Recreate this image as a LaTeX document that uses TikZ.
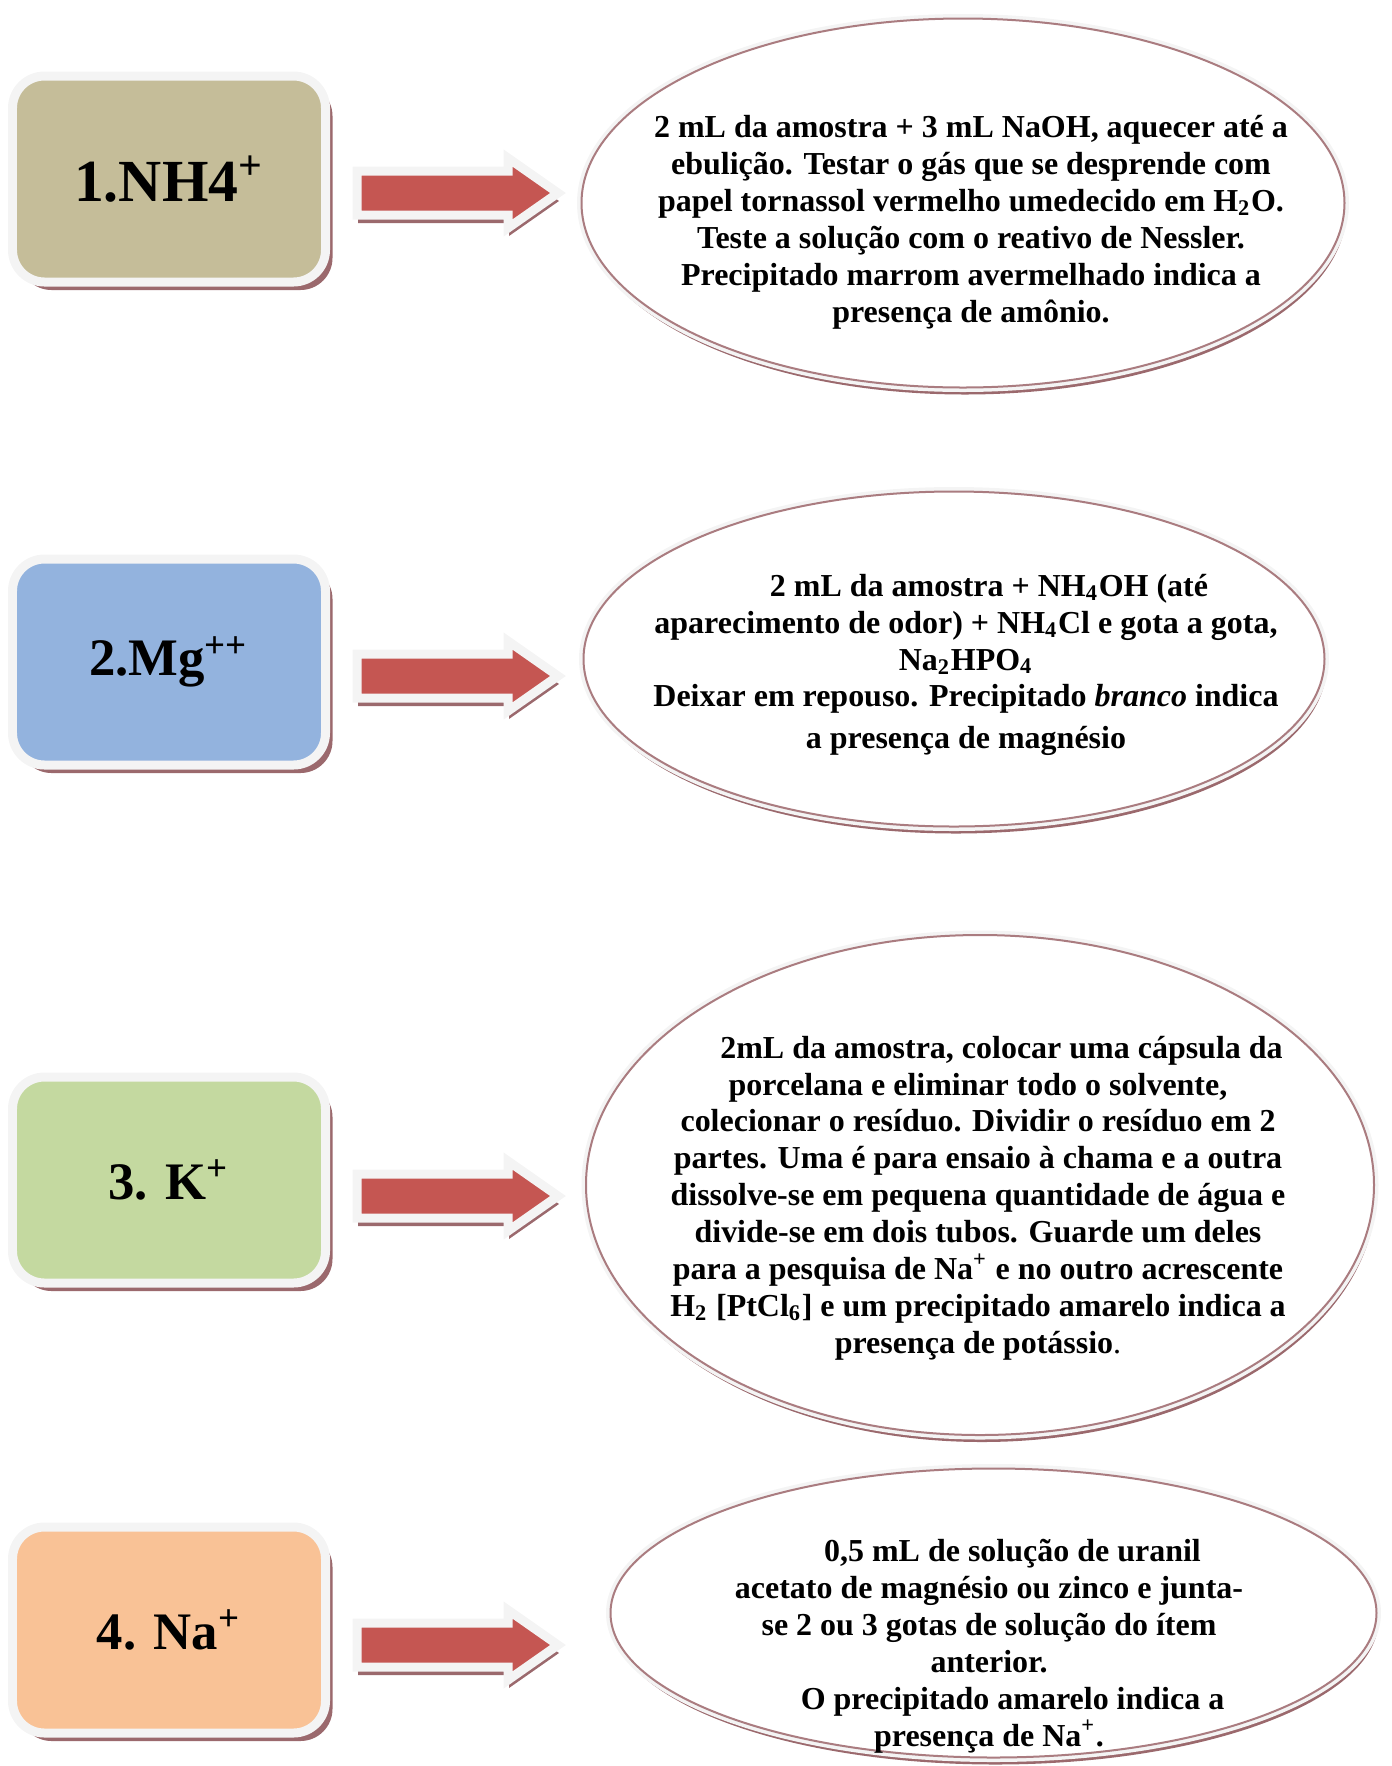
\documentclass[tikz,border=0pt]{standalone}
\usepackage{fontspec}
\setmainfont{Liberation Serif}
\definecolor{boxtan}{RGB}{197, 189, 153}
\definecolor{boxblue}{RGB}{147, 179, 222}
\definecolor{boxgreen}{RGB}{196, 217, 160}
\definecolor{boxpeach}{RGB}{249, 194, 150}
\definecolor{arrowred}{RGB}{197, 86, 82}
\definecolor{rimgray}{RGB}{244, 244, 244}
\definecolor{shadowbrown}{RGB}{155, 105, 109}
\definecolor{ringbrown}{RGB}{170, 124, 128}
\usetikzlibrary{shapes, shadows, positioning}

\begin{document}
\begin{tikzpicture}[
  brownshadow/.style 2 args={drop shadow={shadow xshift=#1, shadow yshift=#2, fill=shadowbrown, opacity=1}},
  ionbox/.style={rectangle, rounded corners=0.32cm, draw=rimgray, line width=0.09cm, minimum width=3.13cm, minimum height=2.06cm, inner sep=0pt, brownshadow={0.07cm}{-0.08cm}, font=\fontsize{15}{18}\selectfont\bfseries},
  blockarrow/.style={single arrow, fill=arrowred, draw=rimgray, line width=0.09cm, minimum height=2.01cm, minimum width=0.61cm, inner sep=0.175cm, single arrow head extend=0.13cm, single arrow tip angle=70, brownshadow={0.01cm}{-0.08cm}, anchor=tail},
  testring/.style={ellipse, brownshadow={0.02cm}{-0.07cm}, preaction={draw=rimgray, line width=0.09cm}, fill=white, draw=ringbrown, line width=0.02cm, inner sep=0pt},
  testtext/.style={align=center, inner sep=0pt, font=\fontsize{9.1}{10.5}\selectfont\bfseries}
]
  \useasboundingbox (0, 0) rectangle (13.92, -17.66);

  % Ion boxes
  \node[ionbox, fill=boxtan, font=\fontsize{17}{20}\selectfont\bfseries] (nh4) at (1.69, -1.79) {1.NH4\textsuperscript{+}};
  \node[ionbox, fill=boxblue] (mg) at (1.69, -6.62) {2.Mg\textsuperscript{++}};
  \node[ionbox, fill=boxgreen] (k) at (1.69, -11.80) {3. K\textsuperscript{+}};
  \node[ionbox, fill=boxpeach] (na) at (1.69, -16.30) {4. Na\textsuperscript{+}};

  % Arrows
  \node[blockarrow] (arrnh4) at (3.525, -1.93) {};
  \node[blockarrow] (arrmg) at (3.525, -6.76) {};
  \node[blockarrow] (arrk) at (3.525, -11.96) {};
  \node[blockarrow] (arrna) at (3.525, -16.45) {};

  % Test ellipses
  \node[testring, minimum width=7.63cm, minimum height=3.69cm] (ringnh4) at (9.63, -2.03) {};
  \node[testring, minimum width=7.41cm, minimum height=3.35cm] (ringmg) at (9.54, -6.59) {};
  \node[testring, minimum width=7.88cm, minimum height=5.00cm] (ringk) at (9.80, -11.85) {};
  \node[testring, minimum width=7.66cm, minimum height=2.89cm] (ringna) at (9.935, -16.13) {};

  % Test texts
  \node[testtext] (textnh4) at (9.71, -2.225) {
    2 mL da amostra + 3 mL NaOH, aquecer até a\\
    ebulição. Testar o gás que se desprende com\\
    papel tornassol vermelho umedecido em H\textsubscript{2}O.\\
    Teste a solução com o reativo de Nessler.\\
    Precipitado marrom avermelhado indica a\\
    presença de amônio.
  };
  \node[testtext] (textmg) at (9.66, -6.65) {
    \hspace*{0.46cm}2 mL da amostra + NH\textsubscript{4}OH (até\\
    aparecimento de odor) + NH\textsubscript{4}Cl e gota a gota,\\
    Na\textsubscript{2}HPO\textsubscript{4}\\
    Deixar em repouso. Precipitado \textit{branco} indica\\[0.05cm]
    a presença de magnésio
  };
  \node[testtext] (textk) at (9.78, -11.98) {
    \hspace*{0.47cm}2mL da amostra, colocar uma cápsula da\\
    porcelana e eliminar todo o solvente,\\
    colecionar o resíduo. Dividir o resíduo em 2\\
    partes. Uma é para ensaio à chama e a outra\\
    dissolve-se em pequena quantidade de água e\\
    divide-se em dois tubos. Guarde um deles\\
    para a pesquisa de Na\textsuperscript{+} e no outro acrescente\\
    H\textsubscript{2} [PtCl\textsubscript{6}] e um precipitado amarelo indica a\\
    presença de potássio{\mdseries .}
  };
  \node[testtext] (textna) at (9.89, -16.46) {
    \hspace*{0.47cm}0,5 mL de solução de uranil\\
    acetato de magnésio ou zinco e junta-\\
    se 2 ou 3 gotas de solução do ítem\\
    anterior.\\
    \hspace*{0.47cm}O precipitado amarelo indica a\\
    presença de Na\textsuperscript{+}.
  };
\end{tikzpicture}
\end{document}
